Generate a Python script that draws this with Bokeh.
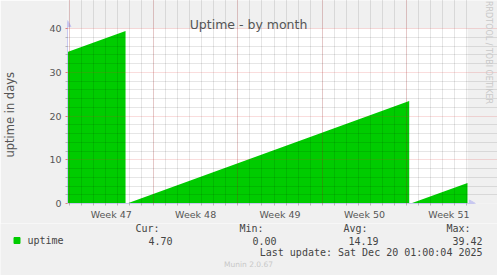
import math
import pandas as pd
from bokeh.plotting import figure
from bokeh.layouts import column
from bokeh.models import FixedTicker, Range1d, Label, Grid, ColumnDataSource
from bokeh.embed import file_html
from bokeh.resources import INLINE

# ---- data ----
uptime_times = ["2025-11-16 21:00", "2025-11-21 16:30", "2025-11-21 16:30",
                "2025-11-21 19:30", "2025-12-15 05:00", "2025-12-15 05:00",
                "2025-12-15 08:00", "2025-12-20 01:00"]
uptime_days = [34.61, 39.42, 0.0, 0.0, 23.45, 0.0, 0.0, 4.70]

week_centers = ["2025-11-20 12:00", "2025-11-27 12:00", "2025-12-04 12:00",
                "2025-12-11 12:00", "2025-12-18 12:00"]
week_labels = ["Week 47", "Week 48", "Week 49", "Week 50", "Week 51"]
week_starts = ["2025-11-17", "2025-11-24", "2025-12-01", "2025-12-08", "2025-12-15"]
y_ticks = [0, 10, 20, 30, 40]
y_minor = [2, 4, 6, 8, 12, 14, 16, 18, 22, 24, 26, 28, 32, 34, 36, 38]
x_start, x_end = "2025-11-16 21:00", "2025-12-20 01:00"
y_max = 40

series_name = "uptime"
legend_cols = ["Cur:", "Min:", "Avg:", "Max:"]
legend_vals = ["4.70", "0.00", "14.19", "39.42"]
last_update = "Last update: Sat Dec 20 01:00:04 2025"


def ms(s):
    return pd.Timestamp(s).value / 1e6


GREEN = "#00CC00"
BG = "#F0F0F0"
TXT = "#555555"
LEG = "#444444"
AXIS = "#C8C8F0"
FAINT = "#C8C8C8"
MONO = "DejaVu Sans Mono"

# geometry of the main canvas (pixels)
W, H_MAIN = 497, 223
F_LEFT, F_BOTTOM = 67, 203          # frame: x 67..497, y 0..203
DATA_W, DATA_H = 400, 175            # data area 67..467 , 28..203

x0, x1 = ms(x_start), ms(x_end)
ms_per_px = (x1 - x0) / DATA_W
u_per_px = y_max / DATA_H

p = figure(width=W, height=H_MAIN, x_axis_type="datetime",
           output_backend="svg", toolbar_location=None,
           min_border_left=F_LEFT, min_border_right=0,
           min_border_top=0, min_border_bottom=H_MAIN - F_BOTTOM,
           background_fill_color=BG, border_fill_color=BG,
           outline_line_color=None)
p.frame_align = False
p.x_range = Range1d(x0, x0 + (W - F_LEFT) * ms_per_px)
p.y_range = Range1d(0, F_BOTTOM * u_per_px)

# white plotting area, then the series
p.quad(left=[x0], right=[x1], bottom=[0], top=[y_max], fill_color="white",
       line_color=None)
src = ColumnDataSource(dict(x=[ms(t) for t in uptime_times], y=uptime_days))
p.varea(x="x", y1=0, y2="y", source=src, fill_color=GREEN)

# grids drawn on top of the area
p.grid.visible = False
day_ticks = [ms(d) for d in pd.date_range("2025-11-17", "2025-12-20", freq="D")]
grid_style = dict(grid_line_color="#E03030", grid_line_alpha=0.32,
                  grid_line_dash="1 1", minor_grid_line_color="#000000",
                  minor_grid_line_alpha=0.2, minor_grid_line_dash="1 1",
                  level="annotation")
p.add_layout(Grid(dimension=0, bounds=(0, y_max),
                  ticker=FixedTicker(ticks=[ms(w) for w in week_starts],
                                     minor_ticks=day_ticks), **grid_style))
p.add_layout(Grid(dimension=1, bounds=(x0, x1),
                  ticker=FixedTicker(ticks=y_ticks, minor_ticks=y_minor),
                  **grid_style))

# axes
xa = p.xaxis[0]
xa.bounds = (x0, x1 + 7 * ms_per_px)
xa.ticker = FixedTicker(ticks=[ms(c) for c in week_centers], minor_ticks=day_ticks)
xa.major_label_overrides = {ms(c): l for c, l in zip(week_centers, week_labels)}
xa.major_tick_line_color = None
xa.major_tick_out = 0
xa.major_tick_in = 0
xa.minor_tick_line_color = "#B8B8B8"
xa.minor_tick_out = 2
xa.minor_tick_in = 0
xa.major_label_standoff = 3
xa.axis_line_color = AXIS
xa.major_label_text_font = "DejaVu Sans"
xa.major_label_text_font_size = "9.5px"
xa.major_label_text_color = TXT

ya = p.yaxis[0]
ya.bounds = (0, y_max + 7 * u_per_px)
ya.ticker = FixedTicker(ticks=y_ticks, minor_ticks=y_minor)
ya.major_tick_line_color = "#E08080"
ya.major_tick_out = 2
ya.major_tick_in = 0
ya.minor_tick_line_color = "#B8B8B8"
ya.minor_tick_out = 2
ya.minor_tick_in = 0
ya.major_label_standoff = 4
ya.axis_line_color = AXIS
ya.major_label_text_font = "DejaVu Sans"
ya.major_label_text_font_size = "9.5px"
ya.major_label_text_color = TXT
# trailing no-break spaces centre the visible words on the data area
ya.axis_label = "uptime in days" + "\u00a0" * 7
ya.axis_label_standoff = 29
ya.axis_label_text_font = "DejaVu Sans"
ya.axis_label_text_font_size = "11.5px"
ya.axis_label_text_font_style = "normal"
ya.axis_label_text_color = TXT

# arrow heads at the axis ends
p.scatter(x=[x0], y=[y_max + 4 * u_per_px], marker="triangle", size=7,
          fill_color=AXIS, line_color=AXIS)
p.scatter(x=[x1 + 4 * ms_per_px], y=[0], marker="triangle", size=7,
          angle=-math.pi / 2, fill_color=AXIS, line_color=AXIS)


def main_label(cx, cy, text, size, color=TXT, align="center",
               baseline="middle", angle=0.0, font="DejaVu Sans"):
    # cx, cy: canvas pixels from the top-left; converted to frame screen units
    p.add_layout(Label(x=cx - F_LEFT, y=F_BOTTOM - cy, x_units="screen",
                       y_units="screen", text=text, text_font=font,
                       text_font_size=size, text_color=color,
                       text_align=align, text_baseline=baseline, angle=angle))


main_label(248, 24, "Uptime - by month", "12.5px", baseline="alphabetic")
main_label(488, 52, "RRDTOOL / TOBI OETIKER", "8px", color=FAINT,
           angle=-math.pi / 2)

# ---- legend strip below ----
H_LEG = 275 - H_MAIN
q = figure(width=W, height=H_LEG, output_backend="svg", toolbar_location=None,
           min_border=0, x_axis_location=None, y_axis_location=None,
           background_fill_color=BG, border_fill_color=BG,
           outline_line_color=None,
           x_range=Range1d(0, W), y_range=Range1d(275, H_MAIN))
q.frame_align = False
q.grid.visible = False
q.scatter(x=[16.5], y=[240], marker="square", size=6, fill_color=GREEN,
          line_color=GREEN)


def leg_label(x, y, text, size="10px", color=LEG, align="left", font=MONO):
    q.add_layout(Label(x=x, y=y, text=text, text_font=font, text_font_size=size,
                       text_color=color, text_align=align,
                       text_baseline="middle"))


leg_label(27, 240, series_name)
col_right = [159, 263, 367, 470]
val_right = [172, 276, 378, 482]
for c, v, cr, vr in zip(legend_cols, legend_vals, col_right, val_right):
    leg_label(cr, 228, c, align="right")
    leg_label(vr, 240, v, align="right")
leg_label(482, 252, last_update, align="right")
leg_label(248, 264, "Munin 2.0.67", size="7.5px", color=FAINT, align="center",
          font="DejaVu Sans")

open("out.html", "w").write(file_html(column(p, q, spacing=0), INLINE))
